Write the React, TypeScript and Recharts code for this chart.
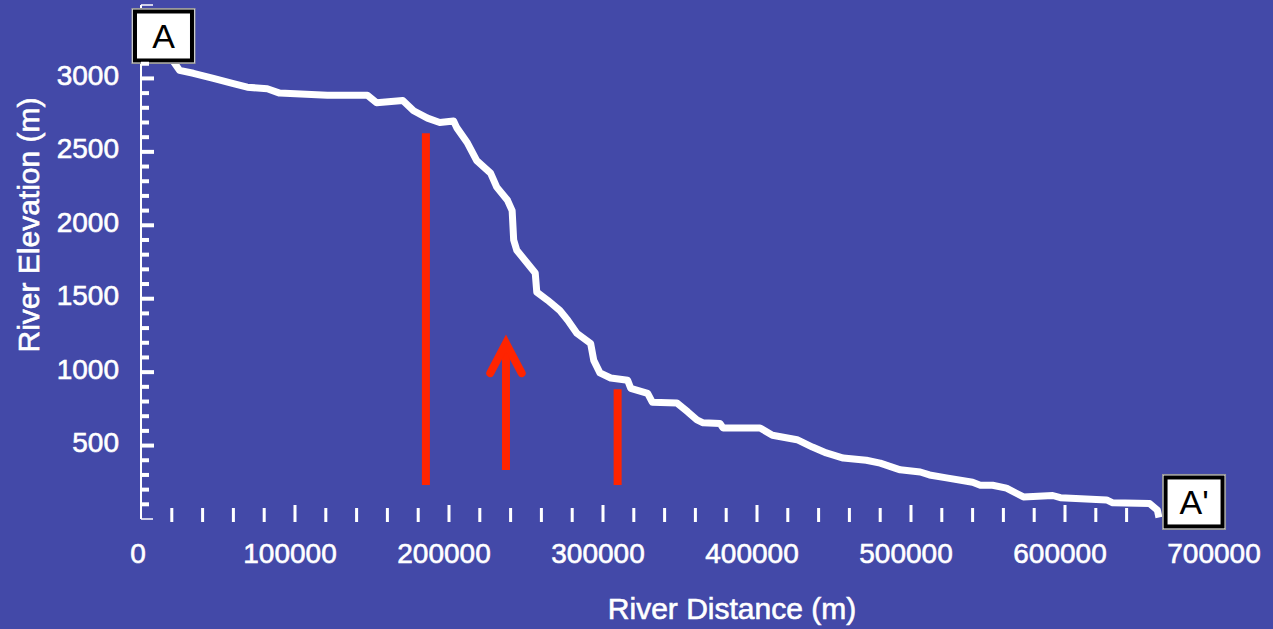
import { LineChart, Line, XAxis, YAxis, ReferenceLine, ReferenceDot } from "recharts";

// river profile
const distance = [
  20000, 25000, 34000, 47000, 60000, 69000, 82000, 90000, 121000, 147000, 153000, 170000,
  177000, 186000, 194000, 203000, 205000, 212000, 218000, 227000, 231000, 238000, 241000,
  242000, 244000, 251000, 256000, 257000, 264000, 272000, 277000, 283000, 292000, 294000,
  298000, 305000, 316000, 318000, 329000, 332000, 348000, 355000, 361000, 365000, 376000,
  378000, 402000, 410000, 426000, 436000, 445000, 456000, 471000, 480000, 493000, 506000,
  512000, 523000, 540000, 545000, 553000, 562000, 573000, 592000, 597000, 627000, 631000,
  655000, 660000, 661000,
];
const elevation = [
  3130, 3055, 3035, 3000, 2965, 2940, 2930, 2900, 2885, 2885, 2835, 2850,
  2780, 2730, 2700, 2710, 2665, 2560, 2440, 2355, 2260, 2170, 2100,
  1900, 1830, 1740, 1675, 1545, 1490, 1420, 1355, 1265, 1195, 1080,
  995, 960, 945, 890, 855, 795, 790, 730, 675, 655, 650,
  620, 620, 570, 540, 490, 450, 415, 400, 380, 335, 320,
  300, 280, 250, 230, 230, 210, 150, 160, 145, 130, 110,
  105, 60, 10,
];

const xLabelTicks = [0, 100000, 200000, 300000, 400000, 500000, 600000, 700000];
const yLabelTicks = [500, 1000, 1500, 2000, 2500, 3000];
const xMinorStep = 20000;
const xMarkRange = [20000, 640000];
const yMinorStep = 100;
const yMax = 3500;

// red markers
const redBars = [
  { x: 185000, from: 231, to: 2626 },
  { x: 309500, from: 231, to: 884 },
];
const arrowShaft = { x: 237000, from: 333, to: 1170 };
const arrowHeadX = [226800, 237000, 247200];
const arrowHeadY = [993, 1197, 993];

const endLabels = [
  { text: "A", x: 14600, y: 3289 },
  { text: "A'", x: 683800, y: 116 },
];

const profile = distance.map((x, i) => ({ x, elev: elevation[i] }));
const arrowHead = arrowHeadX.map((x, i) => ({ x, y: arrowHeadY[i] }));

const xTicks = Array.from({ length: 700000 / xMinorStep + 1 }, (_, i) => i * xMinorStep);
const yTicks = Array.from({ length: yMax / yMinorStep + 1 }, (_, i) => i * yMinorStep);

const BG = "#4349a8";
const RED = "#ff2400";
const FONT = "'Liberation Sans', Arial, Helvetica, sans-serif";
// the reference text is a bit heavier than plain regular weight
const heavy = { stroke: "#fff", strokeWidth: 0.6 };

function XTick({ x, y, payload }: any) {
  const v = payload.value;
  const mark = v >= xMarkRange[0] && v <= xMarkRange[1];
  const major = v % 100000 === 0;
  const label = xLabelTicks.includes(v);
  return (
    <g>
      {mark && (
        <rect x={x - 1.5} y={major ? y - 14 : y - 11} width={3} height={major ? 17 : 14} fill="#fff" />
      )}
      {label && (
        <text x={x - (v === 0 ? 3 : 5)} y={y + 44} textAnchor="middle" fill="#fff" fontSize={28} fontFamily={FONT} {...heavy}>
          {v}
        </text>
      )}
    </g>
  );
}

function YTick({ x, y, payload }: any) {
  const v = payload.value;
  const end = v === 0 || v === yMax;
  const major = v % 500 === 0;
  const label = yLabelTicks.includes(v);
  return (
    <g>
      {end ? (
        <line x1={x} x2={x + 12} y1={y} y2={y} stroke="#fff" strokeWidth={1.5} />
      ) : (
        <rect x={x} y={y - 2} width={major ? 13 : 8} height={4} fill="#fff" />
      )}
      {label && (
        <text x={x - 22} y={y + 6.5} textAnchor="end" fill="#fff" fontSize={28} fontFamily={FONT} {...heavy}>
          {v}
        </text>
      )}
    </g>
  );
}

function endBox(text: string) {
  return ({ cx, cy }: any) => (
    <g>
      <rect x={cx - 31.5} y={cy - 27.5} width={63} height={55} fill="#fff" stroke="#9a9a9a" strokeWidth={1} />
      <rect x={cx - 28.5} y={cy - 24.5} width={57} height={49} fill="#fff" stroke="#000" strokeWidth={4} />
      <text x={cx} y={cy + 12} textAnchor="middle" fill="#000" fontSize={34} fontFamily={FONT}>
        {text}
      </text>
    </g>
  );
}

export default function App() {
  return (
    <div style={{ position: "absolute", left: 0, top: 0, width: 1273, height: 629, background: BG }}>
      <LineChart width={1273} height={629} data={profile} margin={{ top: 5, right: 54, left: 0, bottom: 0 }}>
        <XAxis
          dataKey="x"
          type="number"
          domain={[0, 700000]}
          ticks={xTicks}
          interval={0}
          height={110}
          axisLine={false}
          tickLine={false}
          tickSize={0}
          tickMargin={0}
          tick={<XTick />}
          label={{
            content: ({ viewBox }: any) => (
              <text x={viewBox.x + 591} y={viewBox.y + 100} textAnchor="middle" fill="#fff" fontSize={30} fontFamily={FONT} {...heavy}>
                River Distance (m)
              </text>
            ),
          }}
        />
        <YAxis
          type="number"
          domain={[0, yMax]}
          ticks={yTicks}
          interval={0}
          width={141}
          axisLine={{ stroke: "#fff", strokeWidth: 2 }}
          tickLine={false}
          tickSize={0}
          tickMargin={0}
          tick={<YTick />}
          label={{
            content: () => (
              <text
                x={39}
                y={225}
                transform="rotate(-90 39 225)"
                textAnchor="middle"
                fill="#fff"
                fontSize={30}
                fontFamily={FONT}
                {...heavy}
              >
                River Elevation (m)
              </text>
            ),
          }}
        />
        <Line
          dataKey="elev"
          type="linear"
          stroke="#fff"
          strokeWidth={7}
          strokeLinejoin="round"
          dot={false}
          activeDot={false}
          isAnimationActive={false}
        />
        {redBars.map((b) => (
          <ReferenceLine
            key={b.x}
            segment={[{ x: b.x, y: b.from }, { x: b.x, y: b.to }]}
            stroke={RED}
            strokeWidth={8}
          />
        ))}
        <ReferenceLine
          segment={[{ x: arrowShaft.x, y: arrowShaft.from }, { x: arrowShaft.x, y: arrowShaft.to }]}
          stroke={RED}
          strokeWidth={8}
        />
        <Line
          data={arrowHead}
          dataKey="y"
          type="linear"
          stroke={RED}
          strokeWidth={8}
          strokeLinecap="round"
          strokeLinejoin="miter"
          dot={false}
          activeDot={false}
          isAnimationActive={false}
        />
        {endLabels.map((l) => (
          <ReferenceDot key={l.text} x={l.x} y={l.y} r={1} shape={endBox(l.text)} />
        ))}
      </LineChart>
    </div>
  );
}
